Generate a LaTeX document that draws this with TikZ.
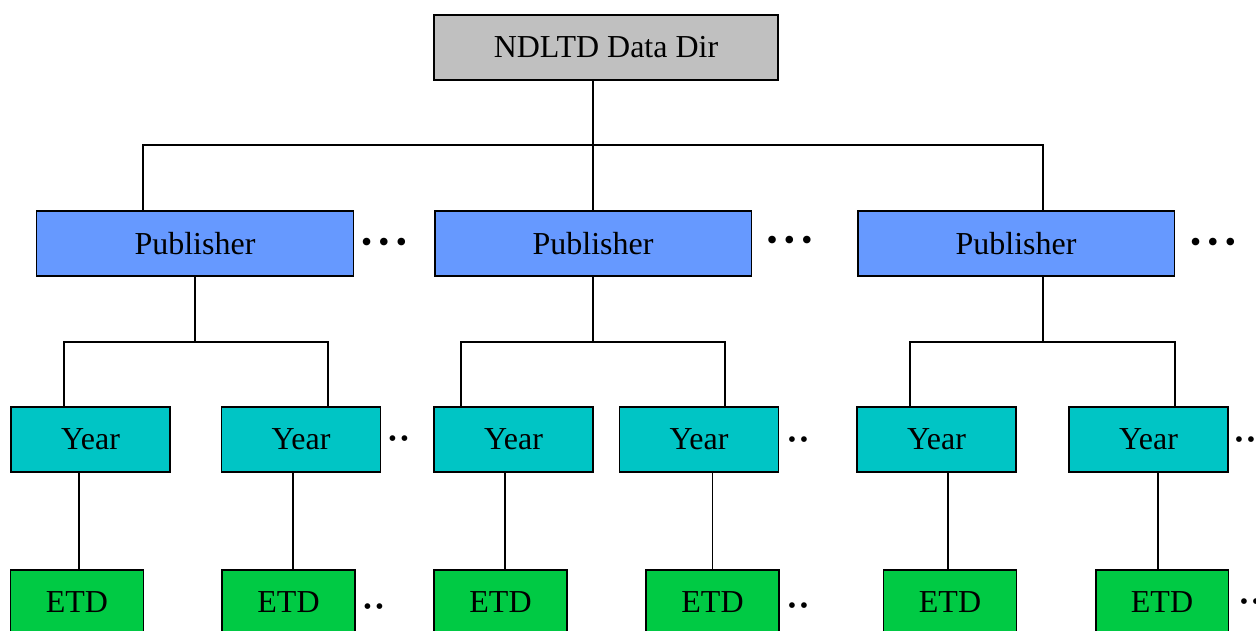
\documentclass[tikz,border=0pt]{standalone}
\usepackage{fontspec}
\setmainfont{Liberation Serif}
\usetikzlibrary{positioning}

\definecolor{dirgray}{HTML}{C0C0C0}
\definecolor{pubblue}{HTML}{6699FF}
\definecolor{yearteal}{HTML}{00C5C5}
\definecolor{etdgreen}{HTML}{00CA44}

\tikzset{
  box/.style={draw, line width=1.1pt, inner sep=0pt, minimum height=1.3cm,
    font=\fontsize{18.2}{21}\selectfont},
  dirbox/.style={box, fill=dirgray, minimum width=6.88cm},
  pubbox/.style={box, fill=pubblue, minimum width=6.34cm},
  yearbox/.style={box, fill=yearteal, minimum width=3.18cm},
  etdbox/.style={box, fill=etdgreen, minimum width=2.66cm},
  wire/.style={line width=0.85pt},
  bigdots/.style={inner sep=0pt, font=\fontsize{18}{21}\selectfont},
  smalldots/.style={inner sep=0pt, font=\fontsize{13.6}{16}\selectfont}
}

\newcommand{\threedots}{•\hspace{0.126cm}•\hspace{0.126cm}•}
\newcommand{\twodots}{•\hspace{0.072cm}•}

\begin{document}
\begin{tikzpicture}[x=0.02cm, y=-0.02cm]

  \useasboundingbox (0,0) rectangle (1256,631);

  % top of the tree
  \node[dirbox] (root) at (606,47.5) {NDLTD Data Dir};

  % publishers
  \node[pubbox] (P1) at (195,243.5) {Publisher};
  \node[pubbox] (P2) at (593,243.5) {Publisher};
  \node[pubbox] (P3) at (1016,243.5) {Publisher};
  \node[bigdots] (dotsP1) at (384,245) {\threedots};
  \node[bigdots] (dotsP2) at (789.5,243) {\threedots};
  \node[bigdots] (dotsP3) at (1213,245) {\threedots};

  % years
  \node[yearbox] (Y1) at (90.5,439.5) {Year};
  \node[yearbox] (Y2) at (301,439.5) {Year};
  \node[yearbox] (Y3) at (513.5,439.5) {Year};
  \node[yearbox] (Y4) at (699,439.5) {Year};
  \node[yearbox] (Y5) at (936.5,439.5) {Year};
  \node[yearbox] (Y6) at (1148.5,439.5) {Year};
  \node[smalldots] (dotsY2) at (398.5,441) {\twodots};
  \node[smalldots] (dotsY4) at (798,442) {\twodots};
  \node[smalldots] (dotsY6) at (1245,442) {\twodots};

  % ETDs
  \node[etdbox] (E1) at (77,602.5) {ETD};
  \node[etdbox] (E2) at (288.5,602.5) {ETD};
  \node[etdbox] (E3) at (500.5,602.5) {ETD};
  \node[etdbox] (E4) at (712.5,602.5) {ETD};
  \node[etdbox] (E5) at (950,602.5) {ETD};
  \node[etdbox] (E6) at (1162,602.5) {ETD};
  \node[smalldots] (dotsE2) at (373.5,609) {\twodots};
  \node[smalldots] (dotsE4) at (798,608) {\twodots};
  \node[smalldots] (dotsE6) at (1250,604) {\twodots};

  % root to publishers
  \coordinate (bus) at (593,145);
  \draw[wire] (root.south -| P2.north) -- (P2.north);
  \draw[wire] ([xshift=-1.04cm]P1.north) |- (bus) -| ([xshift=0.54cm]P3.north);

  % publishers to years
  \draw[wire] (P1.south) -- ++(0,65);
  \draw[wire] ([xshift=-0.53cm]Y1.north) |- ([yshift=-1.3cm]P1.south) -| ([xshift=0.54cm]Y2.north);
  \draw[wire] (P2.south) -- ++(0,65);
  \draw[wire] ([xshift=-1.05cm]Y3.north) |- ([yshift=-1.3cm]P2.south) -| ([xshift=0.52cm]Y4.north);
  \draw[wire] ([xshift=0.54cm]P3.south) -- ++(0,65);
  \draw[wire] ([xshift=-0.53cm]Y5.north) |- ([xshift=0.54cm,yshift=-1.3cm]P3.south) -| ([xshift=0.53cm]Y6.north);

  % years to ETDs
  \foreach \y/\e/\dx in {Y1/E1/0.04, Y2/E2/0.09, Y3/E3/0.09, Y4/E4/0, Y5/E5/-0.04, Y6/E6/-0.08}
    \draw[wire] ([xshift=\dx cm]\e.north) -- ([xshift=\dx cm]\e.north |- \y.south);

\end{tikzpicture}
\end{document}
